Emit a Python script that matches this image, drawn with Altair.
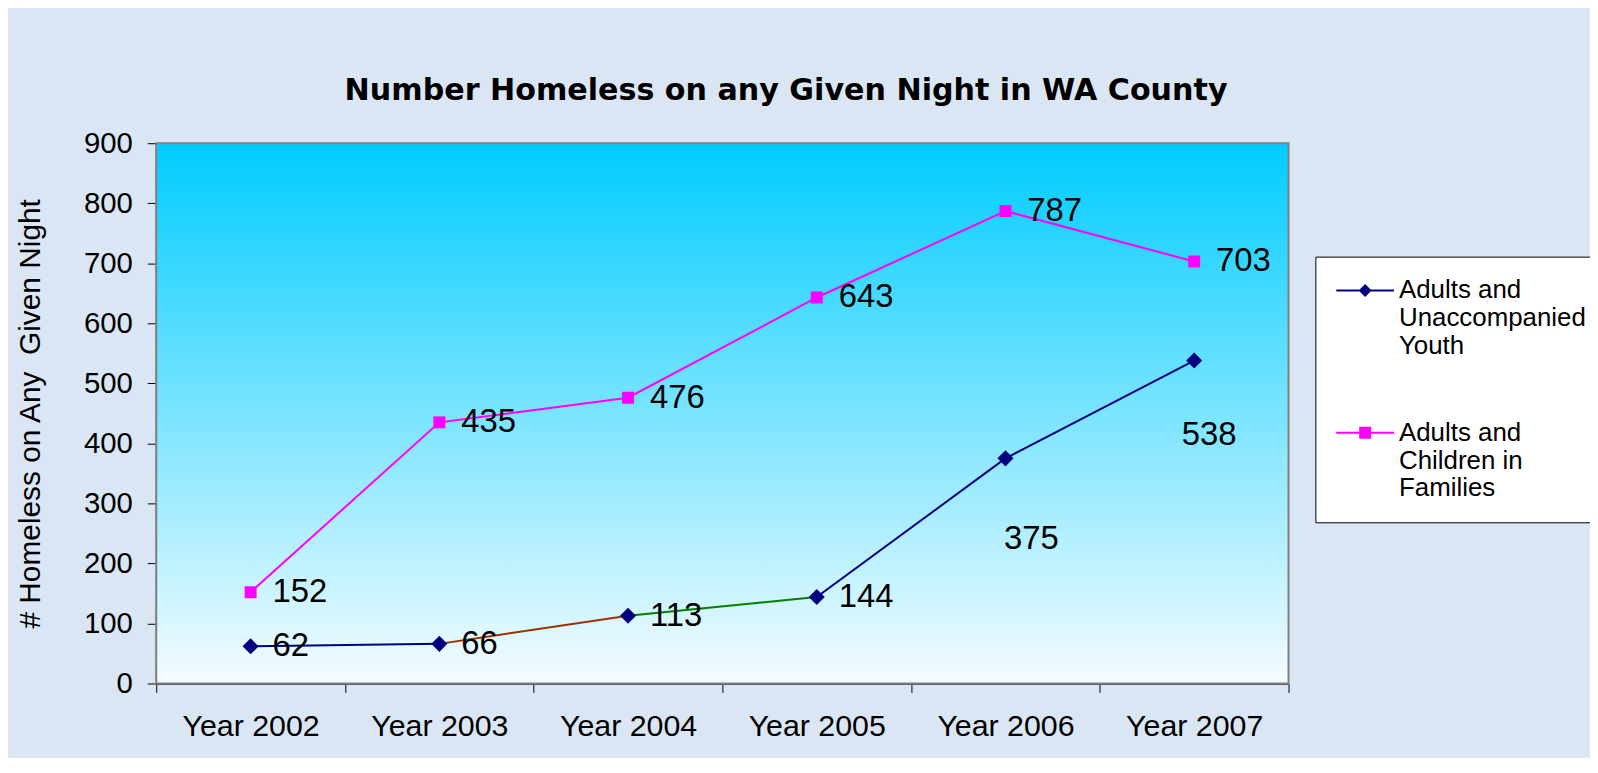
import altair as alt
import pandas as pd

# ---------------- data ----------------
years = ["Year 2002", "Year 2003", "Year 2004", "Year 2005", "Year 2006", "Year 2007"]
adults_youth = [62, 66, 113, 144, 375, 538]
adults_children = [152, 435, 476, 643, 787, 703]
series_names = ["Adults and Unaccompanied Youth", "Adults and Children in Families"]
legend_lines = [["Adults and", "Unaccompanied", "Youth"], ["Adults and", "Children in", "Families"]]
y_ticks = [0, 100, 200, 300, 400, 500, 600, 700, 800, 900]

# ---------------- styles ----------------
NAVY = "#000080"
MAGENTA = "#FF00FF"
adult_segment_colors = [NAVY, "#993300", "#008000", NAVY, NAVY]
LABEL_FONT = "Liberation Sans"
PLOT_W, PLOT_H = 1138, 543

# points table
pts = pd.DataFrame({
    "year": years * 2,
    "value": adults_youth + adults_children,
    "series": [series_names[0]] * len(years) + [series_names[1]] * len(years),
})

# line segments table (each segment its own colour)
seg_rows = []
for i in range(len(years) - 1):
    for j in (i, i + 1):
        seg_rows.append({"seg": f"a{i}", "year": years[j], "value": adults_youth[j],
                         "col": adult_segment_colors[i]})
for j in range(len(years)):
    seg_rows.append({"seg": "f", "year": years[j], "value": adults_children[j], "col": MAGENTA})
segs = pd.DataFrame(seg_rows)

x_enc = alt.X("year:N", sort=years,
              scale=alt.Scale(type="band", domain=years, paddingInner=0, paddingOuter=0),
              axis=alt.Axis(title=None, labelAngle=0, tickBand="extent", tickSize=9,
                            tickColor="black", labelPadding=19, labelFont=LABEL_FONT,
                            labelFontSize=30.5, labelColor="black", domainColor="#404040",
                            domainWidth=2, grid=False, labelOverlap=False))
y_enc = alt.Y("value:Q",
              scale=alt.Scale(domain=[0, 900], nice=False, zero=True),
              axis=alt.Axis(values=y_ticks, title="# Homeless on Any\u00a0 Given Night",
                            titleX=-117, titleY=PLOT_H / 2, titleAngle=270,
                            titleBaseline="alphabetic", titleAlign="center",
                            titleFont=LABEL_FONT, titleFontSize=30, titleFontWeight="normal",
                            titleColor="black", labelFont=LABEL_FONT, labelFontSize=29.5,
                            labelColor="black", labelPadding=15, tickSize=9,
                            tickColor="black", domainColor="#404040", domainWidth=2,
                            grid=False))

gradient = alt.LinearGradient(
    gradient="linear", x1=0, y1=0, x2=0, y2=1,
    stops=[alt.GradientStop(offset=0, color="#00CCFF"),
           alt.GradientStop(offset=1, color="#F5FCFF")],
)

background = alt.Chart(pd.DataFrame({"bg": [0]})).mark_rect(
    fill=gradient, stroke="#808080", strokeWidth=2
).encode(x=alt.value(0), x2=alt.value(PLOT_W), y=alt.value(0), y2=alt.value(PLOT_H))

lines = alt.Chart(segs).mark_line(strokeWidth=2).encode(
    x=x_enc, y=y_enc, detail="seg:N",
    stroke=alt.Stroke("col:N", scale=None, legend=None),
)

pts_adult = alt.Chart(pts).transform_filter(
    alt.datum.series == series_names[0]
).mark_point(shape="diamond", filled=True, size=260, color=NAVY, opacity=1).encode(
    x=x_enc, y=y_enc)

pts_fam = alt.Chart(pts).transform_filter(
    alt.datum.series == series_names[1]
).mark_point(shape="square", filled=True, size=144, color=MAGENTA, opacity=1).encode(
    x=x_enc, y=y_enc)

# legend (built from an empty layer so only the legend is drawn);
# symbols are a thin filled bar (the line) plus the marker
bar = "M-1,-0.077L3.46,-0.077L3.46,0.077L-1,0.077Z"
diamond_path = bar + "M1.23,-0.5L1.73,0L1.23,0.5L0.73,0Z"
square_path = bar + "M0.77,-0.46L1.69,-0.46L1.69,0.46L0.77,0.46Z"
label_expr = (f"datum.label == '{series_names[0]}' ? {legend_lines[0]} : {legend_lines[1]}")

leg = alt.Legend(orient="none", legendX=1165, legendY=114, title=None,
                 fillColor="white", strokeColor="black", padding=21,
                 labelFont=LABEL_FONT, labelFontSize=26, labelColor="black",
                 labelLimit=400, labelOffset=37, labelBaseline="middle",
                 labelExpr=label_expr, symbolSize=676, symbolStrokeWidth=0,
                 symbolOpacity=1, rowPadding=61)

legend_layer = alt.Chart(pts).transform_filter("false").mark_point(
    filled=True, size=676, opacity=1, strokeWidth=0).encode(
    x=x_enc, y=y_enc,
    color=alt.Color("series:N", scale=alt.Scale(domain=series_names, range=[NAVY, MAGENTA]),
                    legend=leg),
    shape=alt.Shape("series:N", scale=alt.Scale(domain=series_names,
                                                range=[diamond_path, square_path]),
                    legend=leg),
)

special_a = (alt.datum.series == series_names[0]) & (alt.datum.year == years[4])
special_b = (alt.datum.series == series_names[0]) & (alt.datum.year == years[5])

labels_main = alt.Chart(pts).transform_filter(~(special_a | special_b)).mark_text(
    align="left", baseline="middle", dx=22, fontSize=33, font=LABEL_FONT, color="black"
).encode(x=x_enc, y=y_enc, text="value:Q")

labels_a = alt.Chart(pts).transform_filter(special_a).mark_text(
    align="center", baseline="middle", dx=26, dy=81, fontSize=33, font=LABEL_FONT,
    color="black").encode(x=x_enc, y=y_enc, text="value:Q")

labels_b = alt.Chart(pts).transform_filter(special_b).mark_text(
    align="center", baseline="middle", dx=15, dy=75, fontSize=33, font=LABEL_FONT,
    color="black").encode(x=x_enc, y=y_enc, text="value:Q")

chart = alt.layer(background, lines, pts_adult, pts_fam, legend_layer,
                  labels_main, labels_a, labels_b).properties(
    width=PLOT_W, height=PLOT_H,
    autosize=alt.AutoSizeParams(type="none"),
    padding={"left": 149, "top": 134, "right": 303, "bottom": 73},
    title=alt.Title("Number Homeless on any Given Night in WA County",
                    font="DejaVu Sans", fontSize=30.3, fontWeight="bold", color="black",
                    anchor="middle", frame="group", dx=64, dy=38, offset=36,
                    baseline="alphabetic"),
).configure(background="#DAE6F4").configure_view(stroke=None)

chart.save("out.html", embed_options={"renderer": "svg", "actions": False})
